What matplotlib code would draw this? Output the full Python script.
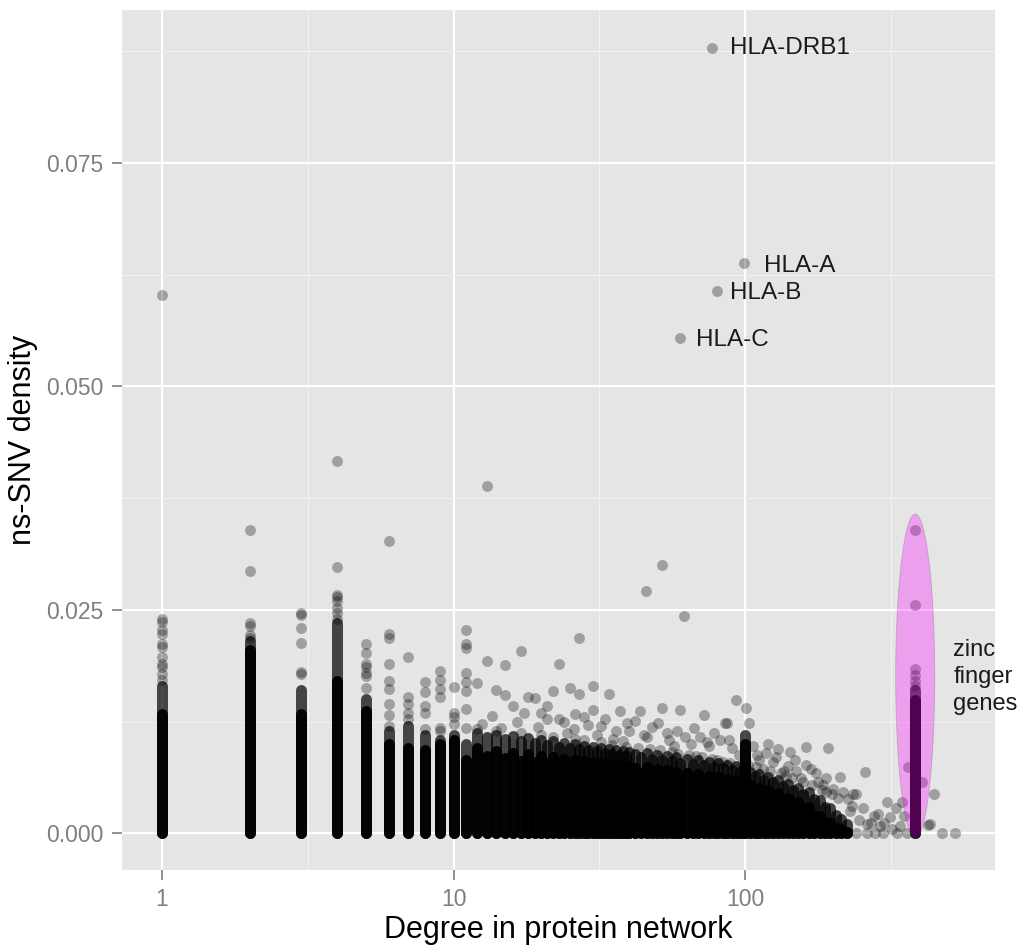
import numpy as np
import matplotlib
matplotlib.use("Agg")
import matplotlib.pyplot as plt

plt.rcParams['font.family'] = ['Liberation Sans', 'DejaVu Sans']

# columns of genes that pile up at one degree: (degree, top of solid part, top of loose part)
col_degree = [1, 2, 3, 4, 5, 6, 7, 8, 9, 10, 11,
              12, 13, 14, 15, 16, 17, 18, 19, 20, 21, 22, 23, 24, 25, 26, 27, 28, 29, 30,
              31, 32, 33, 34, 35, 36, 37, 38, 39, 40,
              42, 44, 46, 48, 50, 52, 54, 56, 58, 60,
              63, 66, 69, 72, 75, 78, 81, 84, 87, 90, 93, 96, 99, 100,
              104, 108, 112, 116, 120, 125, 130, 135, 140, 146, 152, 158, 165, 172, 180,
              188, 196, 205, 214, 224, 383]
col_solid = [0.0134, 0.0205, 0.0134, 0.0171, 0.0137, 0.0100, 0.0096, 0.0093, 0.0100, 0.0104, 0.0082,
             0.0096, 0.0086, 0.0092, 0.0084, 0.0090, 0.0081, 0.0089, 0.0080, 0.0086, 0.0079,
             0.0085, 0.0078, 0.0083, 0.0076, 0.0082, 0.0075, 0.0081, 0.0074, 0.0080,
             0.0073, 0.0079, 0.0072, 0.0078, 0.0071, 0.0077, 0.0070, 0.0076, 0.0069, 0.0075,
             0.0073, 0.0068, 0.0074, 0.0066, 0.0072, 0.0065, 0.0071, 0.0064, 0.0069, 0.0062,
             0.0067, 0.0061, 0.0066, 0.0060, 0.0064, 0.0058, 0.0063, 0.0057, 0.0061, 0.0056,
             0.0060, 0.0053, 0.0058, 0.0100,
             0.0054, 0.0049, 0.0051, 0.0045, 0.0048, 0.0042, 0.0045, 0.0038, 0.0040, 0.0034,
             0.0035, 0.0028, 0.0029, 0.0021, 0.0020, 0.0013, 0.0012, 0.0006, 0.0005, 0.0002,
             0.0149]
col_loose = [0.0165, 0.0215, 0.0160, 0.0235, 0.0150, 0.0115, 0.0120, 0.0110, 0.0105, 0.0110, 0.0100,
             0.0112, 0.0108, 0.0110, 0.0106, 0.0109, 0.0103, 0.0107, 0.0101, 0.0104, 0.0099,
             0.0103, 0.0097, 0.0101, 0.0096, 0.0100, 0.0094, 0.0098, 0.0093, 0.0097,
             0.0092, 0.0095, 0.0090, 0.0094, 0.0089, 0.0093, 0.0088, 0.0092, 0.0087, 0.0091,
             0.0089, 0.0085, 0.0090, 0.0083, 0.0088, 0.0082, 0.0087, 0.0081, 0.0085, 0.0079,
             0.0083, 0.0078, 0.0082, 0.0076, 0.0080, 0.0074, 0.0079, 0.0073, 0.0077, 0.0071,
             0.0075, 0.0069, 0.0073, 0.0110,
             0.0069, 0.0064, 0.0066, 0.0060, 0.0063, 0.0057, 0.0060, 0.0053, 0.0055, 0.0049,
             0.0051, 0.0044, 0.0046, 0.0038, 0.0037, 0.0030, 0.0028, 0.0021, 0.0016, 0.0010,
             0.0160]

# single genes standing out from the columns
pt_degree = [1, 1, 1, 1, 1, 1, 1, 1, 1, 1, 1, 1,
             2, 2, 2, 2, 2, 2,
             3, 3, 3, 3, 3, 3,
             4, 4, 4, 4, 4, 4, 4, 4,
             5, 5, 5, 5, 5, 5, 5,
             6, 6, 6, 6, 6, 6, 6, 6, 6,
             7, 7, 7, 7, 7,
             8, 8, 8, 8, 8,
             9, 9, 9, 9, 9, 9,
             10, 10, 10, 10,
             11, 11, 11, 11, 11, 11, 11, 11,
             13, 51.8, 45.8, 61.8, 27, 13, 15, 17, 23, 12, 25, 27, 30, 34, 22, 14, 15, 18,
             19, 93, 52, 60, 43.6, 37.3, 30, 20, 72.5, 32, 86.5, 39.3, 50.4, 58.3, 82, 70,
             35.3, 25.8, 101, 103, 85, 88, 120, 162, 193, 130, 143, 162, 175, 211, 258, 185,
             189, 217, 235, 240, 233, 254, 276, 306, 313, 345, 350, 443, 425, 473, 523, 261,
             278, 298, 331, 359, 217, 240, 363, 403, 430,
             16, 21, 24, 28, 40, 45, 55, 65, 75, 110, 125, 140, 150, 200, 225, 270, 290, 320,
             12.5, 13.5, 14.5, 16.5, 17.5, 19.5, 21, 23, 24.5, 26, 29, 31, 33, 36, 38, 42,
             46, 48, 54, 57, 62, 67, 74, 78, 90, 95, 106, 112, 118, 128, 136, 148, 155, 168,
             178, 190, 198, 208, 228, 245, 262, 285, 300, 340, 330,
             12, 14, 17, 20, 22, 26, 28, 32, 35, 39, 43, 47, 51, 56, 59, 64, 68, 71, 77, 80,
             84, 89, 97, 102, 109, 115, 122, 133, 138, 145, 158, 170, 183,
             383, 383, 383, 383, 383, 383]
pt_density = [0.0602, 0.0240, 0.0236, 0.0227, 0.0223, 0.0212, 0.0208, 0.0197, 0.0190, 0.0186, 0.0178, 0.0172,
              0.0339, 0.0293, 0.0235, 0.0232, 0.0222, 0.0218,
              0.0247, 0.0244, 0.0230, 0.0213, 0.0180, 0.0178,
              0.0417, 0.0298, 0.0267, 0.0264, 0.0260, 0.0252, 0.0246, 0.0240,
              0.0212, 0.0202, 0.0190, 0.0186, 0.0179, 0.0176, 0.0163,
              0.0327, 0.0223, 0.0219, 0.0190, 0.0170, 0.0161, 0.0145, 0.0132, 0.0120,
              0.0197, 0.0152, 0.0145, 0.0135, 0.0128,
              0.0169, 0.0158, 0.0143, 0.0135, 0.0117,
              0.0182, 0.0172, 0.0161, 0.0152, 0.0118, 0.0115,
              0.0164, 0.0135, 0.0130, 0.0122,
              0.0228, 0.0212, 0.0207, 0.0179, 0.0169, 0.0159, 0.0139, 0.0118,
              0.0388, 0.0300, 0.0271, 0.0243, 0.0218, 0.0193, 0.0188, 0.0204, 0.0189, 0.0168,
              0.0163, 0.0156, 0.0165, 0.0156, 0.0159, 0.0160, 0.0155, 0.0153,
              0.0151, 0.0149, 0.0140, 0.0138, 0.0137, 0.0137, 0.0138, 0.0135, 0.0132, 0.0120,
              0.0123, 0.0123, 0.0124, 0.0114, 0.0105, 0.0108,
              0.0106, 0.0117, 0.0140, 0.0124, 0.0124, 0.0105, 0.0100, 0.0097, 0.0096, 0.0094,
              0.0091, 0.0077, 0.0067, 0.0063, 0.0069, 0.0054,
              0.0046, 0.0046, 0.0044, 0.0044, 0.0031, 0.0028, 0.0020, 0.0035, 0.0018, 0.0035,
              0.0020, 0.0044, 0.0009, 0.0, 0.0, 0.0,
              0.0, 0.0, 0.0, 0.0, 0.0, 0.0, 0.0074, 0.0057, 0.0011,
              0.0142, 0.0128, 0.0125, 0.0130, 0.0115, 0.0110, 0.0105, 0.0100, 0.0098, 0.0088,
              0.0080, 0.0075, 0.0070, 0.0050, 0.0038, 0.0012, 0.0008, 0.0005,
              0.0122, 0.0131, 0.0118, 0.0125, 0.0135, 0.0119, 0.0142, 0.0128, 0.0112, 0.0133,
              0.0121, 0.0110, 0.0128, 0.0115, 0.0103, 0.0126,
              0.0108, 0.0119, 0.0112, 0.0098, 0.0108, 0.0118, 0.0102, 0.0112, 0.0095, 0.0088,
              0.0098, 0.0082, 0.0090, 0.0085, 0.0070, 0.0082, 0.0062, 0.0072,
              0.0058, 0.0062, 0.0044, 0.0040, 0.0025, 0.0015, 0.0010, 0.0022, 0.0012, 0.0008, 0.0028,
              0.0117, 0.0114, 0.0112, 0.0110, 0.0108, 0.0106, 0.0104, 0.0102, 0.0099, 0.0097,
              0.0096, 0.0094, 0.0093, 0.0091, 0.0089, 0.0088, 0.0086, 0.0085, 0.0083, 0.0082,
              0.0080, 0.0079, 0.0077, 0.0076, 0.0074, 0.0072, 0.0070, 0.0067, 0.0064, 0.0062,
              0.0058, 0.0054, 0.0048,
              0.0339, 0.0256, 0.0184, 0.0177, 0.0170, 0.0165]

# labelled HLA genes
hla_names = ['HLA-DRB1', 'HLA-A', 'HLA-B', 'HLA-C']
hla_degree = [77, 99.2, 80.2, 59.8]
hla_density = [0.0878, 0.0638, 0.0607, 0.0554]
hla_text_degree = [88.8, 116, 88.8, 67.9]
hla_text_density = [0.0878, 0.0635, 0.0604, 0.0552]

# zinc finger highlight
zinc_degree = 383
zinc_center = 0.01757
zinc_half_height = 0.01815
zinc_half_width_decades = 0.067

fig = plt.figure(figsize=(10.24, 9.49), dpi=100)
ax = fig.add_axes([0.119, 0.0832, 0.853, 0.9063])
ax.set_facecolor('#e5e5e5')
for s in ax.spines.values():
    s.set_visible(False)

ax.set_xscale('log')
ax.set_xlim(0.729, 721)
ax.set_ylim(-0.0041, 0.0921)

ax.set_xticks([1, 10, 100])
ax.set_xticklabels(['1', '10', '100'])
ax.set_xticks([10 ** 0.5, 10 ** 1.5, 10 ** 2.5], minor=True)
ax.set_xticklabels([], minor=True)
ax.set_yticks([0, 0.025, 0.05, 0.075])
ax.set_yticklabels(['0.000', '0.025', '0.050', '0.075'])
ax.set_yticks([0.0125, 0.0375, 0.0625, 0.0875], minor=True)
ax.grid(which='major', color='white', linewidth=1.6)
ax.grid(which='minor', color='#f2f2f2', linewidth=0.8)
ax.set_axisbelow(True)
ax.tick_params(which='major', length=7, width=1.2, color='#7f7f7f', labelcolor='#7f7f7f',
               labelsize=16.5, pad=6)
ax.tick_params(which='minor', length=0)

lw = 7.9
ax.vlines(col_degree, 0, col_loose, colors='black', alpha=0.7, linewidth=lw,
          capstyle='round', zorder=2)
ax.vlines(col_degree, 0, col_solid, colors='black', alpha=0.95, linewidth=lw,
          capstyle='round', zorder=2)
ax.scatter(pt_degree, pt_density, s=62, color='black', alpha=0.3, linewidths=0, zorder=3)
ax.scatter(hla_degree, hla_density, s=62, color='black', alpha=0.3, linewidths=0, zorder=3)

for name, xd, yd in zip(hla_names, hla_text_degree, hla_text_density):
    ax.text(xd, yd, name, fontsize=17.5, color='#1a1a1a', ha='left', va='center', zorder=5)

t = np.linspace(0, 2 * np.pi, 200)
ex = 10 ** (np.log10(zinc_degree) + zinc_half_width_decades * np.cos(t))
ey = zinc_center + zinc_half_height * np.sin(t)
ax.fill(ex, ey, facecolor='#ff00ff', alpha=0.3, edgecolor='#606060', linewidth=0.6, zorder=4)
ax.text(517, 0.0175, 'zinc\nfinger\ngenes', fontsize=17, color='#1a1a1a', ha='left',
        va='center', linespacing=1.3, zorder=5)

ax.set_xlabel('Degree in protein network', fontsize=22, labelpad=3)
ax.set_ylabel('ns-SNV density', fontsize=22, labelpad=6)

fig.savefig('out.png', dpi=100)
